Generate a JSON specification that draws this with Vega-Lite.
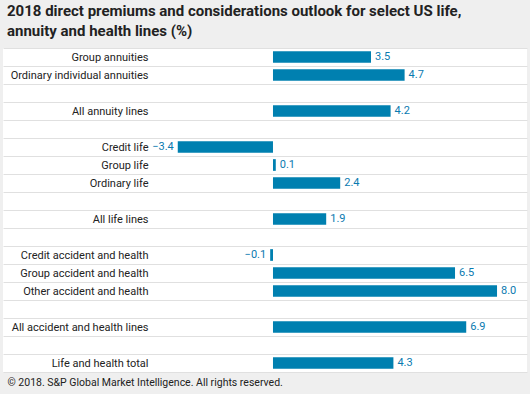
{
  "$schema": "https://vega.github.io/schema/vega-lite/v6.json",
  "width": 524,
  "height": 324,
  "autosize": {"type": "none"},
  "padding": {"left": 3, "right": 3, "top": 48, "bottom": 22},
  "background": "#efefef",
  "config": {
    "view": {"fill": "white", "stroke": null},
    "font": "Roboto"
  },
  "title": {
    "text": ["2018 direct premiums and considerations outlook for select US life,", "annuity and health lines (%)"],
    "anchor": "start",
    "dx": 4,
    "offset": 3,
    "font": "Roboto",
    "fontSize": 15,
    "fontWeight": "bold",
    "lineHeight": 20,
    "color": "#222222"
  },
  "data": {
    "values": [
      {"order": 1, "label": "Group annuities", "value": 3.5},
      {"order": 2, "label": "Ordinary individual annuities", "value": 4.7},
      {"order": 3, "label": " ", "value": null},
      {"order": 4, "label": "All annuity lines", "value": 4.2},
      {"order": 5, "label": "  ", "value": null},
      {"order": 6, "label": "Credit life", "value": -3.4},
      {"order": 7, "label": "Group life", "value": 0.1},
      {"order": 8, "label": "Ordinary life", "value": 2.4},
      {"order": 9, "label": "   ", "value": null},
      {"order": 10, "label": "All life lines", "value": 1.9},
      {"order": 11, "label": "    ", "value": null},
      {"order": 12, "label": "Credit accident and health", "value": -0.1},
      {"order": 13, "label": "Group accident and health", "value": 6.5},
      {"order": 14, "label": "Other accident and health", "value": 8.0},
      {"order": 15, "label": "     ", "value": null},
      {"order": 16, "label": "All accident and health lines", "value": 6.9},
      {"order": 17, "label": "      ", "value": null},
      {"order": 18, "label": "Life and health total", "value": 4.3}
    ]
  },
  "encoding": {
    "y": {
      "field": "label",
      "type": "nominal",
      "sort": {"field": "order", "op": "min", "order": "ascending"},
      "scale": {"paddingInner": 0, "paddingOuter": 0},
      "axis": {
        "title": null,
        "grid": true,
        "tickBand": "extent",
        "gridColor": "#e0e0e0",
        "domain": false,
        "ticks": false,
        "offset": -145,
        "labelPadding": 0,
        "labelAlign": "right",
        "labelFont": "Roboto",
        "labelFontSize": 11,
        "labelColor": "#222222",
        "labelLimit": 300
      }
    }
  },
  "layer": [
    {
      "mark": {"type": "bar", "color": "#0080b0", "height": {"band": 0.65}, "invalid": "break-paths-show-domains"},
      "encoding": {
        "x": {
          "field": "value",
          "type": "quantitative",
          "scale": {"domain": [-9.64, 9.07], "zero": false, "nice": false},
          "axis": {
            "title": "© 2018. S&P Global Market Intelligence. All rights reserved.",
            "labels": false,
            "ticks": false,
            "domain": false,
            "grid": false,
            "titleAnchor": "start",
            "titleAlign": "left",
            "titleX": 4,
            "titlePadding": 5,
            "titleFont": "Roboto",
            "titleFontSize": 10.5,
            "titleFontWeight": "normal",
            "titleColor": "#222222"
          }
        }
      }
    },
    {
      "mark": {"type": "rule", "color": "#a6a6a6", "strokeWidth": 1},
      "encoding": {"x": {"datum": 0}}
    },
    {
      "transform": [{"filter": "datum.value != null && datum.value >= 0"}],
      "mark": {"type": "text", "align": "left", "dx": 4, "color": "#0a7ab0", "fontSize": 11, "font": "Roboto"},
      "encoding": {
        "x": {"field": "value", "type": "quantitative"},
        "text": {"field": "value", "type": "quantitative", "format": ".1f"}
      }
    },
    {
      "transform": [{"filter": "datum.value != null && datum.value < 0"}],
      "mark": {"type": "text", "align": "right", "dx": -4, "color": "#0a7ab0", "fontSize": 11, "font": "Roboto"},
      "encoding": {
        "x": {"field": "value", "type": "quantitative"},
        "text": {"field": "value", "type": "quantitative", "format": ".1f"}
      }
    }
  ]
}
